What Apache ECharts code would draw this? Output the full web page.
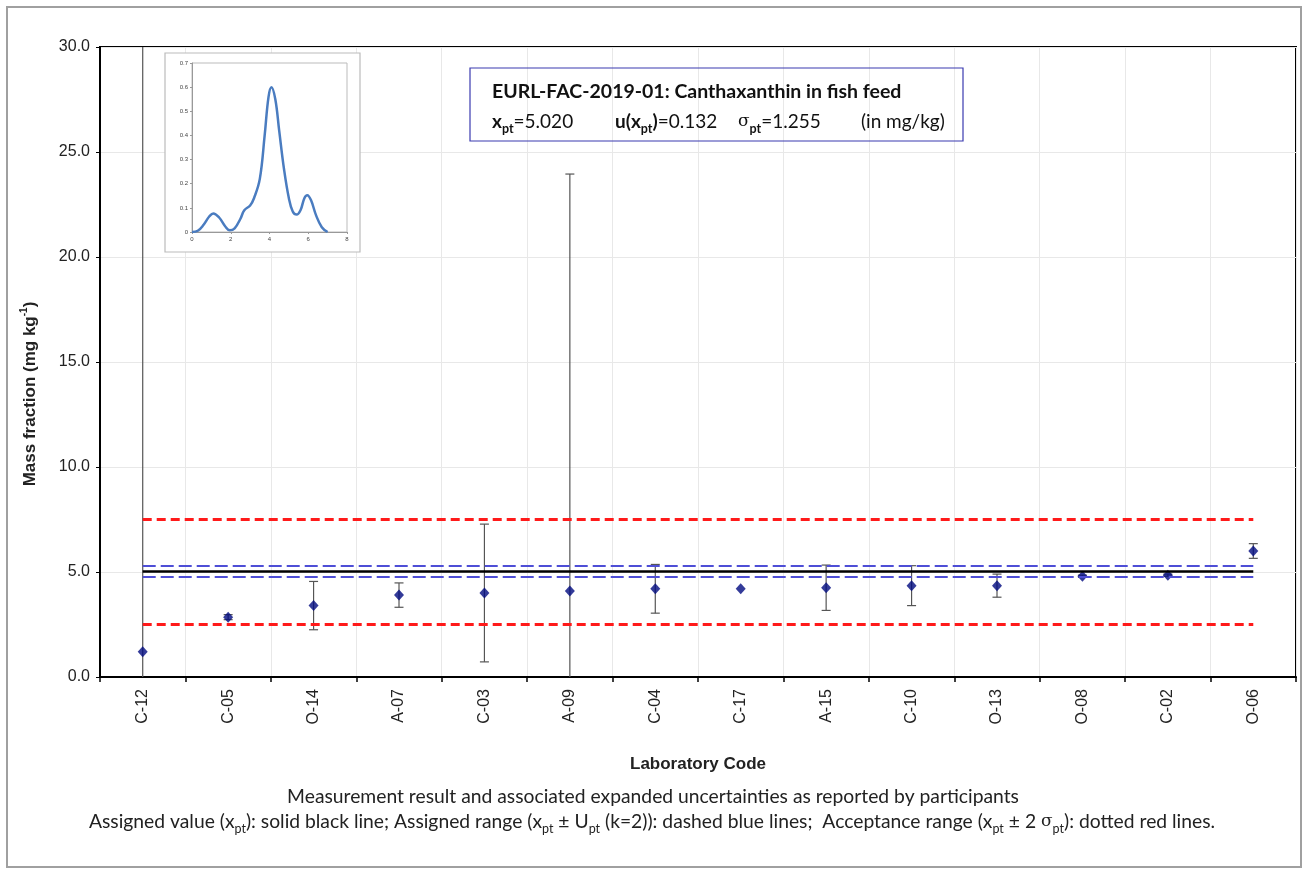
<!DOCTYPE html>
<html>
<head>
<meta charset="utf-8">
<script src="https://cdn.jsdelivr.net/npm/echarts@6/dist/echarts.min.js"></script>
<style>
html,body{margin:0;padding:0;background:#fff;}
#chart{width:1308px;height:870px;}
</style>
</head>
<body>
<div id="chart"></div>
<script>
// ---- data ----
const labCodes = ['C-12','C-05','O-14','A-07','C-03','A-09','C-04','C-17','A-15','C-10','O-13','O-08','C-02','O-06'];
const results = [1.2, 2.85, 3.4, 3.9, 4.0, 4.1, 4.2, 4.2, 4.25, 4.35, 4.35, 4.8, 4.85, 6.0];
const expandedU = [30.0, 0.12, 1.15, 0.58, 3.28, 19.85, 1.16, 0, 1.08, 0.95, 0.55, 0.05, 0.05, 0.35];
const xpt = 5.020;
const uxpt = 0.132;
const sigmaPt = 1.255;
const yTicks = [0, 5, 10, 15, 20, 25, 30];
const kdeX = [0, 0.3, 0.6, 0.9, 1.1, 1.4, 1.7, 1.95, 2.2, 2.5, 2.7, 3.0, 3.2, 3.5, 3.75, 3.95, 4.1, 4.3, 4.5, 4.75, 5.0, 5.2, 5.4, 5.6, 5.8, 5.95, 6.15, 6.4, 6.7, 7.0];
const kdeY = [0, 0.005, 0.03, 0.065, 0.077, 0.06, 0.025, 0.007, 0.015, 0.055, 0.09, 0.11, 0.14, 0.22, 0.40, 0.56, 0.60, 0.55, 0.42, 0.26, 0.14, 0.085, 0.072, 0.09, 0.14, 0.152, 0.13, 0.07, 0.02, 0];

const yMin = yTicks[0], yMax = yTicks[yTicks.length - 1];
const Upt = 2 * uxpt;

const chart = echarts.init(document.getElementById('chart'), null, {renderer: 'canvas'});

function errRender(params, api) {
  const i = api.value(0), v = api.value(1), u = api.value(2);
  if (!u) return null;
  const lo = Math.max(v - u, yMin), hi = Math.min(v + u, yMax);
  const pLo = api.coord([i, lo]), pHi = api.coord([i, hi]);
  const style = {stroke: '#555', lineWidth: 1.2};
  const ch = [{type: 'line', shape: {x1: pLo[0], y1: pLo[1], x2: pHi[0], y2: pHi[1]}, style: style}];
  const cw = 4.5;
  if (v - u >= yMin) ch.push({type: 'line', shape: {x1: pLo[0]-cw, y1: pLo[1], x2: pLo[0]+cw, y2: pLo[1]}, style: style});
  if (v + u <= yMax) ch.push({type: 'line', shape: {x1: pHi[0]-cw, y1: pHi[1], x2: pHi[0]+cw, y2: pHi[1]}, style: style});
  return {type: 'group', children: ch};
}

function refLine(val, color, width, dash) {
  return {
    type: 'line', xAxisIndex: 0, yAxisIndex: 0, data: [], z: 2, silent: true,
    markLine: {
      silent: true, symbol: 'none', label: {show: false}, animation: false,
      lineStyle: {color: color, width: width, type: dash},
      data: [[{coord: [labCodes[0], val]}, {coord: [labCodes[labCodes.length-1], val]}]]
    }
  };
}

const calib = 'Lato, "Open Sans", sans-serif';
const arial = '"Liberation Sans", Arial, sans-serif';

const hdrRich = {
  b: {fontFamily: calib, fontSize: 19, fontWeight: 'bold', fill: '#111', lineHeight: 26},
  bs: {fontFamily: calib, fontSize: 12.5, fontWeight: 'bold', fill: '#111', lineHeight: 26, verticalAlign: 'bottom'},
  n: {fontFamily: calib, fontSize: 19, fill: '#111', lineHeight: 26},
  g: {fontFamily: '"DejaVu Serif", serif', fontSize: 17, fill: '#111', lineHeight: 26}
};
const footRich = {
  n: {fontFamily: calib, fontSize: 19.3, fill: '#222', lineHeight: 26},
  s: {fontFamily: calib, fontSize: 12.5, fill: '#222', lineHeight: 26, verticalAlign: 'bottom'},
  g: {fontFamily: '"DejaVu Serif", serif', fontSize: 17, fill: '#222', lineHeight: 26}
};

const option = {
  animation: false,
  backgroundColor: '#fff',
  grid: [
    {left: 100, right: 12, top: 47, bottom: 193, show: true, borderColor: '#000', borderWidth: 2, z: 0},
    {left: 192, top: 63, width: 155, height: 169, show: true, borderColor: '#bbb', borderWidth: 1, z: 5}
  ],
  xAxis: [
    {
      type: 'category', gridIndex: 0, data: labCodes, boundaryGap: true,
      axisLine: {lineStyle: {color: '#000', width: 2}},
      axisTick: {show: true, length: 5, lineStyle: {color: '#000', width: 1.5}},
      axisLabel: {rotate: 90, margin: 12, fontFamily: arial, fontSize: 16, color: '#222'},
      splitLine: {show: true, lineStyle: {color: '#e8e8e8', width: 1}},
      name: 'Laboratory Code', nameLocation: 'middle', nameGap: 79,
      nameTextStyle: {fontFamily: arial, fontSize: 17, fontWeight: 'bold', color: '#222'}
    },
    {
      type: 'value', gridIndex: 1, min: 0, max: 8, interval: 2, z: 6,
      axisLine: {show: true, onZero: false, lineStyle: {color: '#999', width: 1}},
      axisTick: {show: true, length: 2, lineStyle: {color: '#999'}},
      axisLabel: {fontSize: 6, color: '#444', margin: 4, fontFamily: arial},
      splitLine: {show: false}
    }
  ],
  yAxis: [
    {
      type: 'value', gridIndex: 0, min: yMin, max: yMax, interval: 5,
      axisLine: {show: true, lineStyle: {color: '#000', width: 2}},
      axisTick: {show: true, length: 4, lineStyle: {color: '#000'}},
      axisLabel: {formatter: v => v.toFixed(1), fontFamily: arial, fontSize: 16, color: '#222', margin: 10},
      splitLine: {show: true, lineStyle: {color: '#e8e8e8', width: 1}}
    },
    {
      type: 'value', gridIndex: 1, min: 0, max: 0.7, interval: 0.1, z: 6,
      axisLine: {show: true, lineStyle: {color: '#999', width: 1}},
      axisTick: {show: true, length: 2, lineStyle: {color: '#999'}},
      axisLabel: {fontSize: 6, color: '#444', margin: 4, fontFamily: arial, formatter: v => v === 0 ? '0' : String(+v.toFixed(1))},
      splitLine: {show: false}
    }
  ],
  series: [
    refLine(xpt + 2 * sigmaPt, '#ff1a1a', 3, [9, 5]),
    refLine(xpt - 2 * sigmaPt, '#ff1a1a', 3, [9, 5]),
    refLine(xpt + Upt, '#4e4ed6', 2, [13, 5]),
    refLine(xpt - Upt, '#4e4ed6', 2, [13, 5]),
    refLine(xpt, '#000', 2.5, 'solid'),
    {
      type: 'custom', xAxisIndex: 0, yAxisIndex: 0, z: 3, silent: true,
      renderItem: errRender,
      data: labCodes.map((c, i) => [i, results[i], expandedU[i]])
    },
    {
      type: 'scatter', xAxisIndex: 0, yAxisIndex: 0, z: 4, silent: true,
      symbol: 'diamond', symbolSize: [10, 11],
      itemStyle: {color: '#000a80'},
      data: results
    },
    {
      type: 'line', xAxisIndex: 1, yAxisIndex: 1, z: 7, silent: true,
      showSymbol: false, smooth: 0.4,
      lineStyle: {color: '#4a7cc0', width: 2.5},
      data: kdeX.map((x, i) => [x, kdeY[i]])
    }
  ],
  graphic: [
    {type: 'rect', z: -10, silent: true, shape: {x: 7, y: 7, width: 1294, height: 860},
     style: {fill: 'none', stroke: '#a0a0a0', lineWidth: 2}},
    {type: 'rect', z: 1, silent: true, shape: {x: 165, y: 53, width: 195, height: 199},
     style: {fill: '#fff', stroke: '#bbb', lineWidth: 1.2}},
    {type: 'rect', z: 10, silent: true, shape: {x: 470, y: 68, width: 493, height: 73},
     style: {fill: 'none', stroke: '#3a3ab0', lineWidth: 1.2}},
    {type: 'text', z: 11, silent: true, x: 492, y: 92,
     style: {text: 'EURL-FAC-2019-01: Canthaxanthin in fish feed', fontFamily: calib, fontSize: 19.5, fontWeight: 'bold', fill: '#111', align: 'left', verticalAlign: 'middle'}},
    {type: 'text', z: 11, silent: true, x: 492, y: 109,
     style: {rich: hdrRich, text: '{b|x}{bs|pt}{n|=5.020}'}},
    {type: 'text', z: 11, silent: true, x: 615, y: 109,
     style: {rich: hdrRich, text: '{b|u(x}{bs|pt}{b|)}{n|=0.132}'}},
    {type: 'text', z: 11, silent: true, x: 738, y: 109,
     style: {rich: hdrRich, text: '{g|σ}{bs|pt}{n|=1.255}'}},
    {type: 'text', z: 11, silent: true, x: 861, y: 109,
     style: {rich: hdrRich, text: '{n|(in mg/kg)}'}},
    {type: 'text', silent: true, x: 30, y: 394, rotation: Math.PI / 2,
     style: {rich: {n: {fontFamily: arial, fontSize: 17, fontWeight: 'bold', fill: '#222', lineHeight: 22}, s: {fontFamily: arial, fontSize: 10, fontWeight: 'bold', fill: '#222', lineHeight: 22, verticalAlign: 'top'}},
       text: '{n|Mass fraction (mg kg}{s|-1}{n|)}', align: 'center', verticalAlign: 'middle'}},
    {type: 'text', silent: true, x: 653, y: 797,
     style: {text: 'Measurement result and associated expanded uncertainties as reported by participants', fontFamily: calib, fontSize: 19.3, fill: '#222', align: 'center', verticalAlign: 'middle'}},
    {type: 'text', silent: true, x: 652, y: 822,
     style: {rich: footRich,
       text: '{n|Assigned value (x}{s|pt}{n|): solid black line; Assigned range (x}{s|pt}{n| ± U}{s|pt}{n| (k=2)): dashed blue lines;  Acceptance range (x}{s|pt}{n| ± 2 }{g|σ}{s|pt}{n|): dotted red lines.}',
       align: 'center', verticalAlign: 'middle'}}
  ]
};
chart.setOption(option);
</script>
</body>
</html>
